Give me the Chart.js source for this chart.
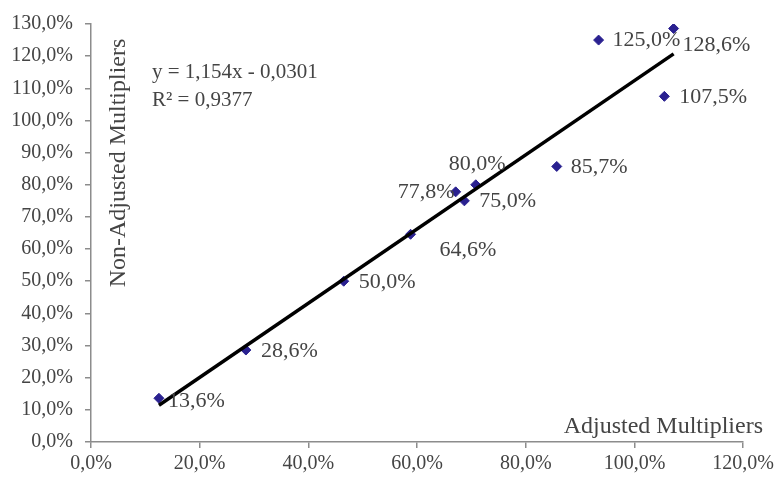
<!DOCTYPE html>
<html>
<head>
<meta charset="utf-8">
<script src="https://cdn.jsdelivr.net/npm/chart.js@4"></script>
<style>
  html, body { margin: 0; padding: 0; background: #fff; }
  #wrap { width: 778px; height: 480px; }
</style>
</head>
<body>
<div id="wrap"><canvas id="myChart" width="778" height="480"></canvas></div>
<script>
// adjusted vs non-adjusted multipliers (in %)
var xValues = [12.5, 28.5, 46.5, 58.8, 67.1, 68.7, 70.8, 85.7, 93.4, 105.5, 107.2];
var yValues = [13.6, 28.6, 50.0, 64.6, 77.8, 75.0, 80.0, 85.7, 125.0, 107.5, 128.6];
var xTicks = [0, 20, 40, 60, 80, 100, 120];
var yTicks = [0, 10, 20, 30, 40, 50, 60, 70, 80, 90, 100, 110, 120, 130];
var trendSlope = 1.154;
var trendIntercept = -3.01;
var equationText = ['y = 1,154x - 0,0301', 'R² = 0,9377'];
// label placement: [dx, dy, align]
var labelPos = [
  [9, 3, 'left'], [15, 1, 'left'], [15, 1, 'left'], [29, 16, 'left'],
  [1, 0, 'right'], [15, 0, 'left'], [-27, -21, 'left'], [14, 1, 'left'],
  [14, 0, 'left'], [15, 1, 'left'], [9, 17, 'left']
];

var fmt = function(v){ return v.toFixed(1).replace('.', ',') + '%'; };
var textColor = '#444444';
var serif = '"Liberation Serif", "Times New Roman", serif';

var points = xValues.map(function(x, i){ return {x: x, y: yValues[i]}; });
var xMin = Math.min.apply(null, xValues), xMax = Math.max.apply(null, xValues);
var trend = [xMin, xMax].map(function(x){ return {x: x, y: trendSlope * x + trendIntercept}; });

var extraText = {
  id: 'extraText',
  afterDatasetsDraw: function(chart){
    var ctx = chart.ctx;
    var meta = chart.getDatasetMeta(1);
    ctx.save();
    ctx.fillStyle = textColor;
    ctx.textBaseline = 'middle';
    ctx.font = '22px ' + serif;
    meta.data.forEach(function(pt, i){
      var p = labelPos[i];
      var tx = p[2] === 'right' ? pt.x - p[0] : pt.x + p[0];
      ctx.textAlign = p[2];
      ctx.fillText(fmt(yValues[i]), tx, pt.y + p[1]);
    });
    ctx.font = '21px ' + serif;
    ctx.textAlign = 'left';
    ctx.fillText(equationText[0], 152, 72);
    ctx.fillText(equationText[1], 152, 100);
    ctx.font = '24px ' + serif;
    ctx.textAlign = 'right';
    ctx.fillText('Adjusted Multipliers', 763, 427);
    ctx.translate(119, 163);
    ctx.rotate(-Math.PI / 2);
    ctx.textAlign = 'center';
    ctx.fillText('Non-Adjusted Multipliers', 0, 0);
    ctx.restore();
  }
};

const ctx = document.getElementById('myChart').getContext('2d');
const myChart = new Chart(ctx, {
  type: 'scatter',
  data: {
    datasets: [{
      type: 'line',
      data: trend,
      borderColor: '#000',
      borderWidth: 3.5,
      pointRadius: 0,
      fill: false
    }, {
      data: points,
      pointStyle: 'rectRot',
      pointRadius: 5,
      backgroundColor: '#2a2190',
      borderColor: '#2a2190',
      borderWidth: 1
    }]
  },
  options: {
    responsive: false,
    animation: false,
    layout: { padding: { top: 21, right: 34, left: 0, bottom: 0 } },
    plugins: { legend: { display: false }, tooltip: { enabled: false } },
    scales: {
      x: {
        type: 'linear', min: 0, max: 120,
        afterBuildTicks: function(axis){ axis.ticks = xTicks.map(function(v){ return {value: v}; }); },
        afterFit: function(axis){ axis.height = 38; },
        grid: { drawOnChartArea: false, tickLength: 6, color: '#8c8c8c', lineWidth: 1.5 },
        border: { color: '#8c8c8c', width: 1.5 },
        ticks: { callback: fmt, padding: 4, maxRotation: 0, color: textColor, font: { family: serif, size: 20 } }
      },
      y: {
        type: 'linear', min: 0, max: 130,
        afterBuildTicks: function(axis){ axis.ticks = yTicks.map(function(v){ return {value: v}; }); },
        afterFit: function(axis){ axis.width = 91; },
        grid: { drawOnChartArea: false, tickLength: 6, color: '#8c8c8c', lineWidth: 1.5 },
        border: { color: '#8c8c8c', width: 1.5 },
        ticks: { callback: fmt, padding: 12, color: textColor, font: { family: serif, size: 20 } }
      }
    }
  },
  plugins: [extraText]
});
</script>
</body>
</html>
